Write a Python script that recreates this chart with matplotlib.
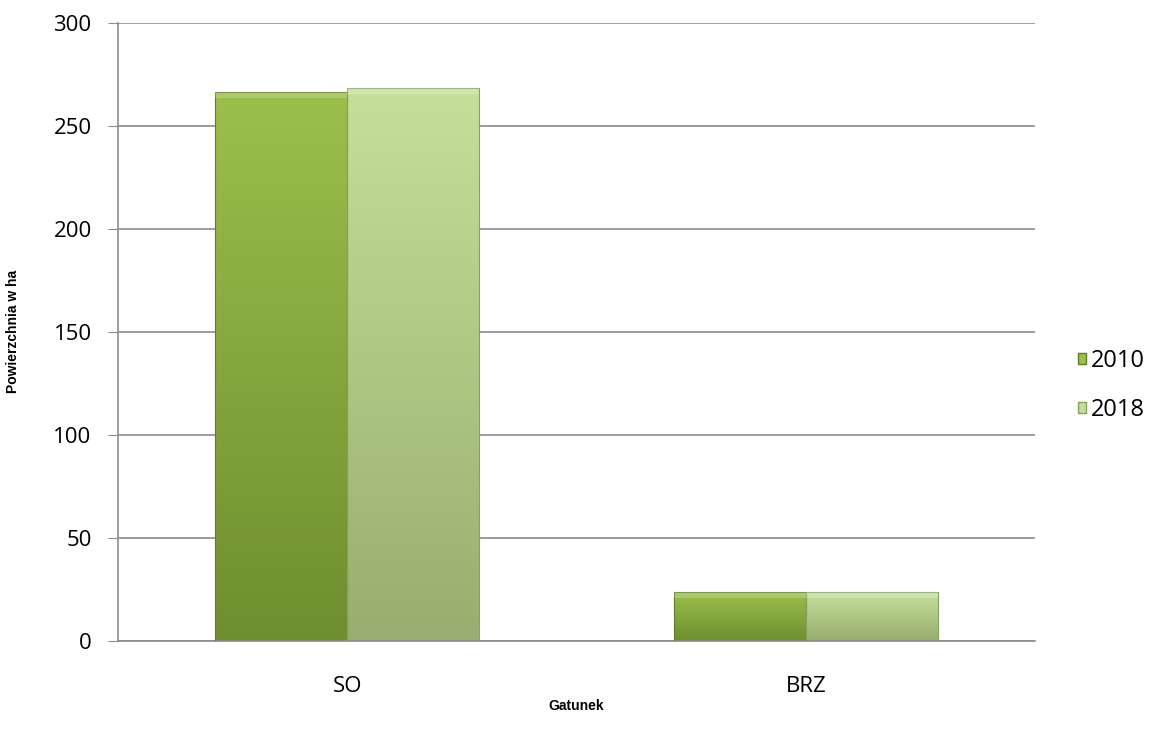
import numpy as np
import matplotlib.pyplot as plt
from matplotlib.colors import LinearSegmentedColormap
from matplotlib.patches import Patch

categories = ['SO', 'BRZ']
years = ['2010', '2018']
values_2010 = [266.5, 23.5]
values_2018 = [268.5, 23.5]

colors_top = ['#9cbf4c', '#c6df9a']
colors_bottom = ['#6f8e2f', '#98ae70']
edge_colors = ['#5f7a28', '#8a9f66']

plt.rcParams['font.family'] = ['Open Sans', 'DejaVu Sans']

fig = plt.figure(figsize=(11.57, 7.4), dpi=100)
ax = fig.add_axes([0.102, 0.134, 0.7926, 0.835])

x = np.arange(len(categories))
width = 0.288
series = [values_2010, values_2018]
grad = np.linspace(0, 1, 256).reshape(-1, 1)

for i, vals in enumerate(series):
    pos = x + (i - 0.5) * width
    bars = ax.bar(pos, vals, width, color='none', edgecolor=edge_colors[i],
                  linewidth=0.8, zorder=3)
    cmap = LinearSegmentedColormap.from_list('g%d' % i, [colors_bottom[i], colors_top[i]])
    for b in bars:
        bx, by = b.get_x(), b.get_y()
        bw, bh = b.get_width(), b.get_height()
        im = ax.imshow(grad, cmap=cmap, aspect='auto', origin='lower',
                       extent=[bx, bx + bw, by, by + bh], zorder=2)
        im.set_clip_path(b)
        # light bevel along the top
        ax.fill_between([bx, bx + bw], by + bh - min(bh * 0.12, 3), by + bh,
                        color='white', alpha=0.2, lw=0, zorder=3)

ax.set_xlim(-0.5, 1.5)
ax.set_ylim(0, 300)
ax.set_yticks(np.arange(0, 301, 50))
ax.set_xticks(x)
ax.set_xticklabels(categories)
ax.tick_params(axis='y', labelsize=16, length=7, color='#8c8c8c', pad=12)
ax.tick_params(axis='x', labelsize=16, length=0, pad=25)
ax.yaxis.grid(True, color='#8c8c8c', linewidth=1.2, zorder=0)
ax.set_axisbelow(True)

for s in ['top', 'right']:
    ax.spines[s].set_visible(False)
for s in ['left', 'bottom']:
    ax.spines[s].set_color('#8c8c8c')
    ax.spines[s].set_linewidth(1.2)

ax.set_ylabel('Powierzchnia w ha', fontsize=10, fontweight='bold',
              family=['Liberation Sans', 'DejaVu Sans'], labelpad=24)
ax.set_xlabel('Gatunek', fontsize=10, fontweight='bold',
              family=['Liberation Sans', 'DejaVu Sans'], labelpad=2)

handles = [Patch(facecolor=colors_top[0], edgecolor=edge_colors[0]),
           Patch(facecolor=colors_top[1], edgecolor=edge_colors[1])]
fig.legend(handles, years, loc='center left', bbox_to_anchor=(0.913, 0.479),
           frameon=False, fontsize=17, handlelength=0.35, handleheight=0.35,
           handletextpad=0.2, labelspacing=1.05)

fig.savefig('out.png', dpi=100)
